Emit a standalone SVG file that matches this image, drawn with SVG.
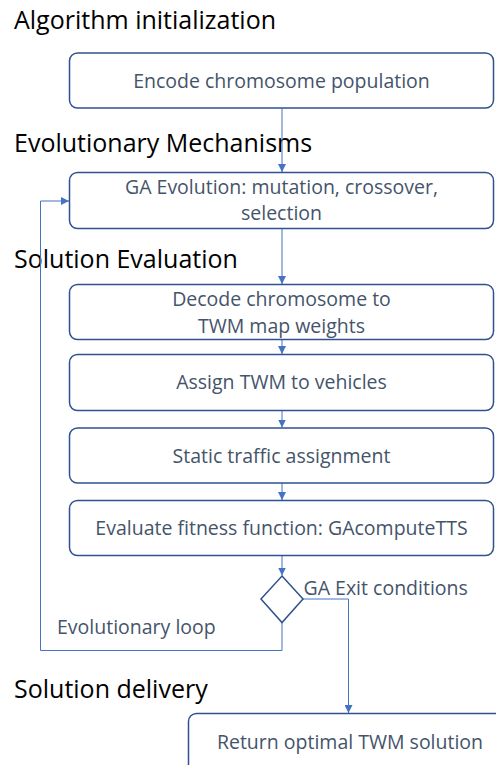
<svg xmlns="http://www.w3.org/2000/svg" width="496" height="765" viewBox="0 0 496 765">
<defs>
<marker id="arr" viewBox="0 0 10 10" refX="10" refY="5" markerWidth="8" markerHeight="8" markerUnits="userSpaceOnUse" orient="auto">
<path d="M0,0 L10,5 L0,10 z" fill="#4472C4"/>
</marker>
<style>
.title{font-family:"Open Sans","Noto Sans",sans-serif;font-size:25px;fill:#000}
.box{fill:#fff;stroke:#2F528F;stroke-width:1.5}
.lbl{font-family:"Open Sans","Noto Sans",sans-serif;font-size:19.5px;fill:#44546A;text-anchor:middle}
.note{font-family:"Open Sans","Noto Sans",sans-serif;font-size:19.5px;fill:#44546A}
.con{fill:none;stroke:#4472C4;stroke-width:1;marker-end:url(#arr)}
</style>
</defs>
<rect width="496" height="765" fill="#fff"/>
<g id="titles">
<text class="title" x="14" y="29">Algorithm initialization</text>
<text class="title" x="14" y="152">Evolutionary Mechanisms</text>
<text class="title" x="14" y="268">Solution Evaluation</text>
<text class="title" x="14" y="698">Solution delivery</text>
</g>
<g id="connectors">
<path class="con" d="M282,108.5 V172"/>
<path class="con" d="M282,228.5 V284"/>
<path class="con" d="M282,339.5 V354"/>
<path class="con" d="M282,410.5 V427.5"/>
<path class="con" d="M282,483 V500"/>
<path class="con" d="M282,555.5 V575.5"/>
<path class="con" d="M282,622.5 V650.5 H40.5 V201 H69"/>
<path class="con" d="M303,599 H348.5 V713"/>
</g>
<g id="n1">
<rect class="box" x="69.5" y="53" width="424" height="55" rx="8"/>
<text class="lbl" x="281.5" y="88">Encode chromosome population</text>
</g>
<g id="n2">
<rect class="box" x="69.5" y="172.5" width="424" height="56" rx="8"/>
<text class="lbl" x="281.5" y="194">GA Evolution: mutation, crossover,</text>
<text class="lbl" x="281.5" y="220">selection</text>
</g>
<g id="n3">
<rect class="box" x="69.5" y="284.5" width="424" height="55" rx="8"/>
<text class="lbl" x="281.5" y="306">Decode chromosome to</text>
<text class="lbl" x="281.5" y="333">TWM map weights</text>
</g>
<g id="n4">
<rect class="box" x="69.5" y="354.5" width="424" height="56" rx="8"/>
<text class="lbl" x="281.5" y="389">Assign TWM to vehicles</text>
</g>
<g id="n5">
<rect class="box" x="69.5" y="428" width="424" height="55" rx="8"/>
<text class="lbl" x="281.5" y="462.5">Static traffic assignment</text>
</g>
<g id="n6">
<rect class="box" x="69.5" y="500.5" width="424" height="55" rx="8"/>
<text class="lbl" x="281.5" y="535">Evaluate fitness function: GAcomputeTTS</text>
</g>
<g id="n7">
<path d="M282,576 L303,599 L282,622.5 L261,599 Z" fill="#fff" stroke="#2F528F" stroke-width="1.5"/>
<text class="note" x="303.5" y="594.5">GA Exit conditions</text>
<text class="note" x="57" y="634">Evolutionary loop</text>
</g>
<g id="n8">
<rect class="box" x="188.5" y="713.5" width="330" height="70" rx="8"/>
<text class="lbl" x="350" y="749">Return optimal TWM solution</text>
</g>
</svg>
